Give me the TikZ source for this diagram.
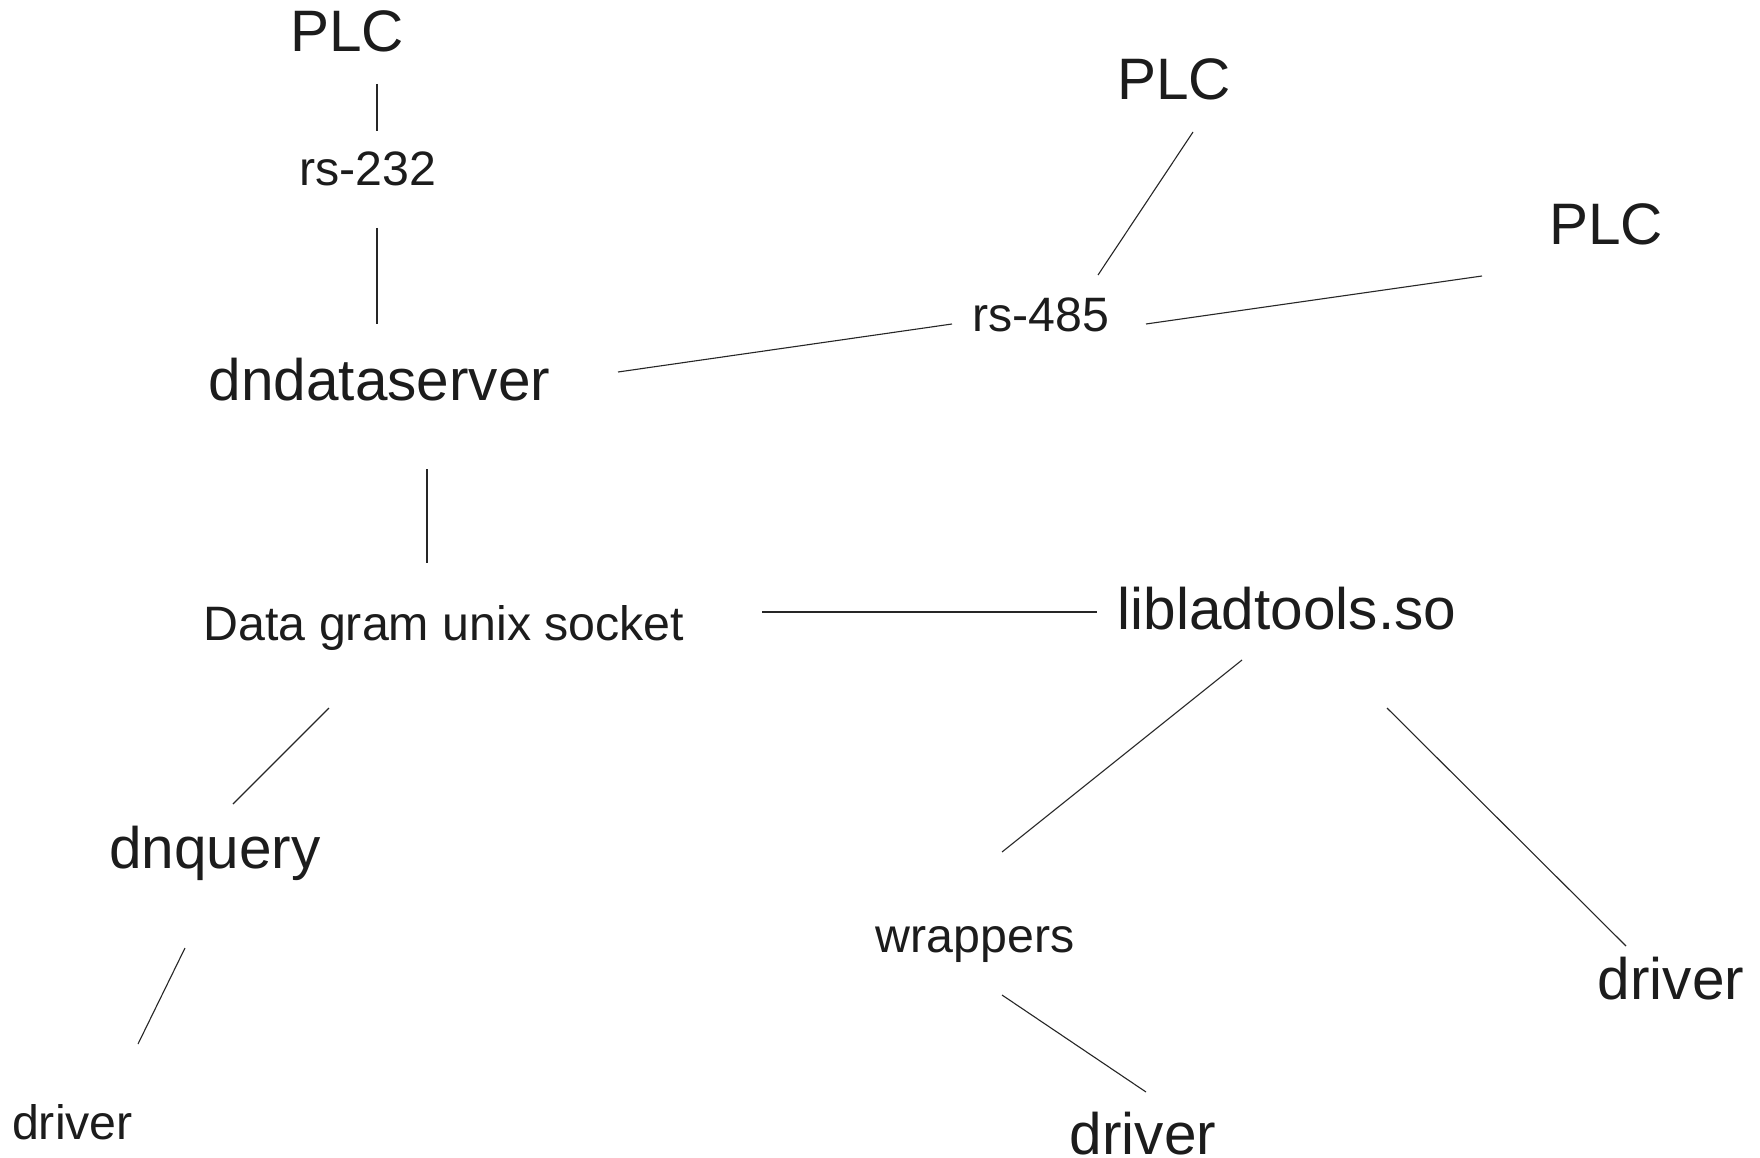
\documentclass[tikz,border=0pt]{standalone}
\usepackage{fontspec}
\setmainfont{Liberation Sans}
\definecolor{ink}{HTML}{1C1C1C}
\begin{document}
\begin{tikzpicture}[x=1pt,y=-1pt,
  big/.style={inner sep=0pt,anchor=base,text=ink,font=\fontsize{58.5}{70}\selectfont},
  small/.style={inner sep=0pt,anchor=base,text=ink,font=\fontsize{48.3}{58}\selectfont},
  link/.style={draw=black!85,line width=1.1pt}]
\useasboundingbox (0,0) rectangle (1760,1158);
\fill[white] (0,0) rectangle (1760,1158);
% nodes
\node[big]   (plcA)  at (347,52)   {PLC};
\node[small] (rs232) at (368,186)  {rs-232};
\node[big]   (dnds)  at (379.5,400) {dndataserver};
\node[big]   (plcB)  at (1174,100) {PLC};
\node[big]   (plcC)  at (1606,244) {PLC};
\node[small] (rs485) at (1041,331) {rs-485};
\node[small] (dgram) at (444,640)  {Data gram unix socket};
\node[big]   (lib)   at (1287,629) {libladtools.so};
\node[big]   (dnq)   at (215,868)  {dnquery};
\node[small] (drvL)  at (72.5,1139) {driver};
\node[small] (wrap)  at (975,952)  {wrappers};
\node[big]   (drvB)  at (1143,1154) {driver};
\node[big]   (drvR)  at (1671,999) {driver};
% connector end points
\coordinate (a1) at (377,84);   \coordinate (a2) at (377,131);
\coordinate (b1) at (377,228);  \coordinate (b2) at (377,324);
\coordinate (c1) at (1193,132); \coordinate (c2) at (1098,275);
\coordinate (d1) at (1146,324); \coordinate (d2) at (1482,276);
\coordinate (e1) at (618,372);  \coordinate (e2) at (952,324);
\coordinate (f1) at (427,469);  \coordinate (f2) at (427,563);
\coordinate (g1) at (762,612);  \coordinate (g2) at (1097,612);
\coordinate (h1) at (329,708);  \coordinate (h2) at (233,804);
\coordinate (i1) at (185,948);  \coordinate (i2) at (138,1044);
\coordinate (j1) at (1242,660); \coordinate (j2) at (1002,852);
\coordinate (k1) at (1002,995); \coordinate (k2) at (1146,1092);
\coordinate (l1) at (1387,708); \coordinate (l2) at (1626,946);
% connectors
\draw[link] (a1) -- (a2);
\draw[link] (b1) -- (b2);
\draw[link] (c1) -- (c2);
\draw[link] (d1) -- (d2);
\draw[link] (e1) -- (e2);
\draw[link] (f1) -- (f2);
\draw[link] (g1) -- (g2);
\draw[link] (h1) -- (h2);
\draw[link] (i1) -- (i2);
\draw[link] (j1) -- (j2);
\draw[link] (k1) -- (k2);
\draw[link] (l1) -- (l2);
\end{tikzpicture}
\end{document}
